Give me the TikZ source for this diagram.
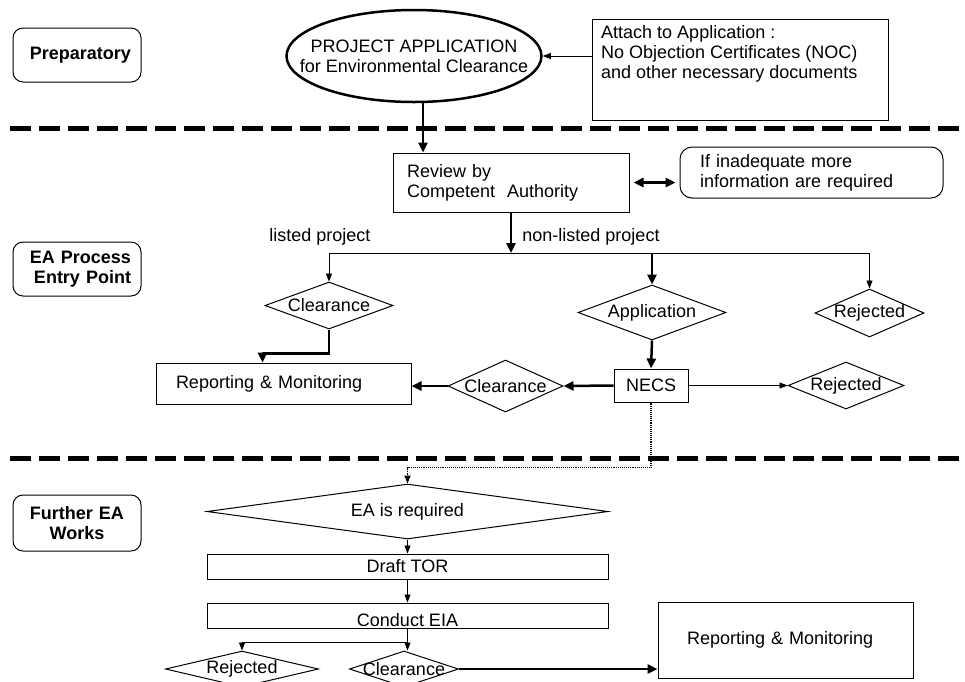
\documentclass[tikz,border=0pt]{standalone}
\usepackage{fontspec}
\setmainfont{Liberation Sans}
\usetikzlibrary{shapes.geometric}
\usetikzlibrary{arrows.meta}
\newcommand{\dtext}[1]{\makebox[0pt]{#1}}
\newcommand{\textsize}{\fontsize{18}{20}\selectfont}
\tikzset{
    common/.style={draw, rectangle, line width=1pt, inner sep=0pt},
    stage/.style={common, rounded corners=10pt, minimum width=128, minimum height=54, font=\textsize\bfseries, align=right, text width=108},
    leftbox/.style={common, align=left},
    midbox/.style={common, align=center},
    dec/.style={draw, diamond, line width=1pt, inner sep=0pt},
    appl-shape/.style={draw, ellipse, line width=2.5pt, inner xsep=-30pt, inner ysep=0pt, align=center, minimum width=255, minimum height=92},
    arr/.style={-{Triangle[length=8pt, width=6pt]}, line width=0.9pt},
    thickarr/.style={-{Triangle[length=10pt, width=9pt]}, line width=2.5pt},
    dotarr/.style={arr, densely dotted, line width=1.5pt},
    separator/.style={line width=5pt, dash pattern=on 21pt off 8pt}
}
\begin{document}
\begin{tikzpicture}[x=1pt, y=-1pt, every node/.append style={font=\textsize}]
                \useasboundingbox (0,0) rectangle (965,681);

                \node[stage] (prep) at (77,55) {Preparatory};
                \node[stage] (entry) at (77,269) {EA Process\\Entry Point};
                \node[stage, align=center, minimum height=56] (further) at (77,523) {Further EA\\Works};

                \draw[separator] (10,128) -- (965,128);
                \draw[separator] (10,458) -- (965,458);

                \node[appl-shape] (app) at (414,56) {PROJECT APPLICATION\\for Environmental Clearance};
                \node[common, minimum width=296, minimum height=101] (attach) at (740,69.5) {};
                \node[inner sep=0pt, align=left, anchor=north west] (attachtxt) at (601,25)
                    {Attach to Application :\\No Objection Certificates (NOC)\\and other necessary documents};
                \node[leftbox, minimum width=236, minimum height=59, text width=208, inner xsep=14pt] (review) at (511,182.5)
                    {Review by\\Competent~ Authority};
                \node[leftbox, rounded corners=12pt, minimum width=263, minimum height=51, text width=223, inner xsep=20pt] (inad) at (811.5,172.5)
                    {If inadequate more\\information are required};

                \node (lbllisted) at (320,237) {listed project};
                \node (lblnonlisted) at (591,237) {non-listed project};
                \coordinate (split) at (511,253);

                \node[dec, minimum width=128, minimum height=47] (clr1) at (329,305.5) {\dtext{Clearance}};
                \node[dec, minimum width=148, minimum height=55] (appl) at (652,312.5) {\dtext{Application}};
                \node[dec, minimum width=109, minimum height=48] (rej1) at (869.5,313) {\dtext{Rejected}};

                \node[leftbox, minimum width=255, minimum height=41, text width=215, inner xsep=20pt] (rep1) at (283.5,383.5) {Reporting \& Monitoring};
                \node[dec, minimum width=115, minimum height=52] (clr2) at (505.5,386) {\dtext{Clearance}};
                \node[midbox, minimum width=74, minimum height=33] (necs) at (651,385.5) {NECS};
                \node[dec, minimum width=116, minimum height=47] (rej2) at (846,385.5) {\dtext{Rejected}};

                \node[dec, minimum width=401, minimum height=55] (ea) at (407.5,511.5) {\dtext{EA is required}};
                \node[midbox, minimum width=401, minimum height=25] (draft) at (407.5,566.5) {Draft TOR};
                \node[midbox, minimum width=401, minimum height=25, text height=22pt] (eia) at (407.5,615.5) {Conduct EIA};
                \node[dec, minimum width=153, minimum height=36] (rej3) at (242,669) {\dtext{Rejected}};
                \node[dec, minimum width=109, minimum height=36] (clr3) at (404,669) {\dtext{Clearance}};
                \node[leftbox, minimum width=255, minimum height=76, text width=197, inner xsep=29pt] (rep2) at (785.5,640) {Reporting \& Monitoring};

                \draw[arr] (app.east -| attach.west) -- (app.east);
                \draw[thickarr] ([xshift=9pt]app.south) -- ([xshift=9pt]app.south |- review.north);
                \draw[{Triangle[length=10pt, width=9pt]}-{Triangle[length=10pt, width=9pt]}, line width=2.5pt, shorten <=4pt, shorten >=4pt]
                    (review.east) -- (review.east -| inad.west);

                \draw[thickarr] (review.south) -- (split);
                \draw[line width=0.9pt] (split -| clr1.north) -- (split -| rej1.north);
                \draw[arr] (split -| clr1.north) -- (clr1.north);
                \draw[thickarr] (split -| appl.north) -- (appl.north);
                \draw[arr] (split -| rej1.north) -- (rej1.north);

                \draw[thickarr] (clr1.south) -- ++(0,24) -| ([xshift=-21pt]rep1.north);
                \draw[thickarr] (appl.south) -- (necs.north);
                \draw[thickarr] (necs.west) -- (clr2.east);
                \draw[thickarr] (clr2.west) -- (clr2.west -| rep1.east);
                \draw[arr] (necs.east) -- (rej2.west);

                \draw[dotarr] (necs.south) -- ++(0,65) -| (ea.north);
                \draw[arr] (ea.south) -- (draft.north);
                \draw[arr] (draft.south) -- (eia.north);
                \draw[arr] (eia.south) -- ++(0,14) -| (rej3.north);
                \draw[arr] (eia.south) -- (eia.south |- clr3.north);
                \draw[thickarr] (clr3.east) -- (clr3.east -| rep2.west);
\end{tikzpicture}
\end{document}
